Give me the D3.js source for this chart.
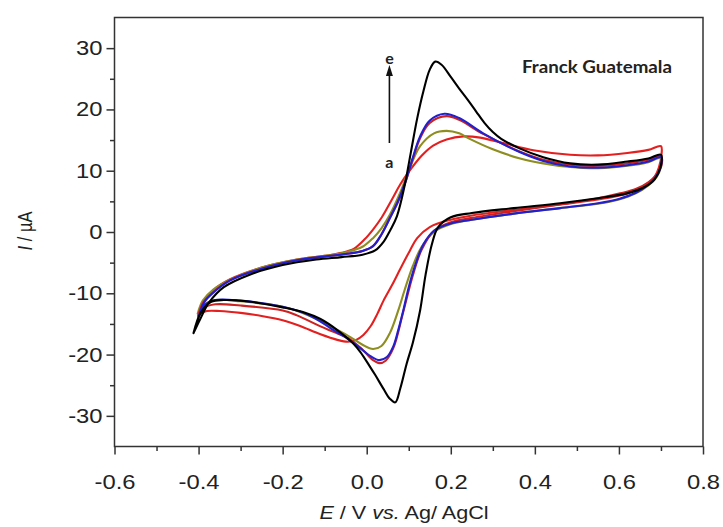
<!DOCTYPE html>
<html><head><meta charset="utf-8">
<script src="https://cdn.jsdelivr.net/npm/d3@7"></script>
<style>body{margin:0;background:#fff}svg{display:block}</style>
</head><body><svg id="c" width="723" height="527"></svg>
<script>
// ---------------- data ----------------
const xTicks = [-0.6,-0.4,-0.2,0.0,0.2,0.4,0.6,0.8];
const xTickLabels = ["-0.6","-0.4","-0.2","0.0","0.2","0.4","0.6","0.8"];
const xMinorTicks = [-0.5,-0.3,-0.1,0.1,0.3,0.5,0.7];
const yTicks = [-30,-20,-10,0,10,20,30];
const yTickLabels = ["-30","-20","-10","0","10","20","30"];
const yMinorTicks = [-25,-15,-5,5,15,25];
const seriesNames = ["a","b","c","d","e"];

// each series: closed CV loop [E (V), I (uA)], forward scan then reverse scan
const curveA = [[-0.400,-13.8],[-0.388,-11.6],[-0.365,-9.5],[-0.325,-7.7],[-0.25,-5.8],[-0.166,-4.5],[-0.10,-3.9],[-0.06,-3.4],[-0.03,-2.7],[-0.005,-1.2],[0.015,0.4],[0.036,2.4],[0.060,5.3],[0.080,7.8],[0.100,9.8],[0.130,12.4],[0.158,14.1],[0.190,15.1],[0.230,15.6],[0.270,15.4],[0.325,14.5],[0.400,13.3],[0.484,12.6],[0.550,12.5],[0.620,12.9],[0.670,13.4],[0.700,14.0],
  [0.701,12.5],[0.695,10.5],[0.685,9.0],[0.666,7.8],[0.620,6.3],[0.550,5.3],[0.460,4.5],[0.350,3.6],[0.250,2.7],[0.200,2.0],[0.150,0.8],[0.120,-1.0],[0.103,-3.0],[0.080,-6.0],[0.060,-8.7],[0.040,-11.2],[0.025,-13.4],[0.010,-15.3],[-0.008,-16.8],[-0.025,-17.6],[-0.045,-17.9],[-0.070,-17.6],[-0.110,-16.7],[-0.160,-15.3],[-0.200,-14.4],[-0.250,-13.7],[-0.300,-13.2],[-0.350,-12.9],[-0.380,-12.9],[-0.395,-13.3],[-0.400,-13.8]];
const curveB = [[-0.402,-13.3],[-0.390,-11.2],[-0.365,-9.4],[-0.325,-7.8],[-0.25,-5.8],[-0.166,-4.5],[-0.10,-3.9],[-0.05,-3.3],[-0.01,-2.4],[0.015,-1.0],[0.035,0.6],[0.055,2.8],[0.080,6.5],[0.100,10.0],[0.127,14.0],[0.160,16.1],[0.190,16.5],[0.220,16.1],[0.245,15.2],[0.300,13.5],[0.365,12.0],[0.420,11.2],[0.484,10.6],[0.550,10.4],[0.620,10.8],[0.670,11.4],[0.700,12.1],
  [0.700,10.6],[0.690,9.0],[0.670,7.6],[0.640,6.3],[0.600,5.3],[0.550,4.6],[0.460,3.9],[0.350,3.0],[0.250,2.0],[0.200,1.3],[0.160,0.0],[0.130,-2.5],[0.110,-5.5],[0.090,-9.5],[0.075,-12.8],[0.055,-16.5],[0.035,-18.6],[0.015,-19.1],[-0.010,-18.4],[-0.040,-17.1],[-0.080,-15.6],[-0.110,-14.5],[-0.160,-13.0],[-0.200,-12.2],[-0.300,-11.3],[-0.360,-11.1],[-0.388,-11.9],[-0.402,-13.3]];
const curveC = [[-0.401,-13.6],[-0.388,-11.4],[-0.365,-9.8],[-0.325,-7.9],[-0.246,-5.9],[-0.166,-4.6],[-0.10,-4.0],[-0.05,-3.6],[-0.01,-3.1],[0.015,-2.3],[0.035,-0.4],[0.056,2.4],[0.075,5.0],[0.094,8.5],[0.110,12.0],[0.127,15.3],[0.150,17.8],[0.190,18.9],[0.220,18.3],[0.277,16.0],[0.365,13.1],[0.420,11.8],[0.484,11.0],[0.550,10.8],[0.620,11.2],[0.670,11.8],[0.700,12.4],
  [0.701,10.8],[0.690,9.4],[0.670,8.1],[0.640,7.0],[0.603,6.3],[0.550,5.5],[0.460,4.5],[0.350,3.4],[0.250,2.3],[0.200,1.6],[0.160,0.2],[0.130,-3.0],[0.110,-7.0],[0.087,-13.0],[0.063,-19.0],[0.045,-21.0],[0.030,-21.4],[0.015,-20.9],[-0.010,-19.2],[-0.045,-17.3],[-0.079,-16.3],[-0.110,-15.4],[-0.166,-13.6],[-0.200,-12.8],[-0.300,-12.0],[-0.360,-11.8],[-0.388,-12.4],[-0.401,-13.6]];
const curveD = [[-0.400,-13.9],[-0.387,-11.5],[-0.365,-9.9],[-0.325,-7.9],[-0.246,-5.9],[-0.166,-4.6],[-0.10,-4.0],[-0.05,-3.6],[-0.01,-3.1],[0.015,-2.3],[0.035,-0.4],[0.056,2.4],[0.075,5.1],[0.094,8.6],[0.110,12.2],[0.127,15.6],[0.150,18.2],[0.185,19.3],[0.220,18.6],[0.277,16.1],[0.365,13.0],[0.420,11.6],[0.484,10.7],[0.550,10.5],[0.620,10.9],[0.670,11.5],[0.700,12.2],
  [0.700,10.8],[0.690,9.2],[0.670,7.7],[0.640,6.4],[0.600,5.4],[0.550,4.7],[0.460,3.9],[0.350,3.0],[0.250,2.0],[0.200,1.4],[0.160,0.2],[0.135,-2.0],[0.115,-5.5],[0.100,-9.0],[0.087,-12.8],[0.075,-16.0],[0.063,-18.7],[0.048,-20.4],[0.030,-20.9],[0.010,-20.3],[-0.020,-18.7],[-0.050,-17.2],[-0.079,-16.0],[-0.110,-14.6],[-0.150,-13.2],[-0.200,-12.2],[-0.300,-11.2],[-0.360,-11.1],[-0.388,-12.1],[-0.400,-13.9]];
const curveE = [[-0.412,-16.5],[-0.396,-14.2],[-0.375,-11.5],[-0.340,-9.0],[-0.280,-7.0],[-0.200,-5.4],[-0.120,-4.5],[-0.060,-4.1],[-0.010,-3.7],[0.020,-3.0],[0.040,-1.6],[0.056,0.3],[0.072,2.6],[0.090,7.5],[0.105,13.0],[0.120,18.5],[0.135,23.0],[0.150,26.5],[0.163,27.8],[0.178,27.3],[0.200,25.3],[0.220,23.4],[0.240,21.6],[0.260,19.7],[0.280,17.8],[0.300,16.3],[0.320,15.2],[0.365,13.6],[0.420,12.2],[0.484,11.2],[0.550,11.0],[0.620,11.5],[0.670,12.0],[0.700,12.6],
  [0.699,10.6],[0.685,8.6],[0.660,7.3],[0.619,6.3],[0.550,5.5],[0.460,4.7],[0.350,3.9],[0.250,3.1],[0.200,2.4],[0.170,0.8],[0.155,-2.0],[0.140,-7.0],[0.127,-12.8],[0.110,-18.0],[0.095,-21.5],[0.080,-25.5],[0.068,-27.8],[0.055,-27.2],[0.040,-25.6],[0.020,-23.3],[0.008,-22.0],[-0.015,-19.6],[-0.032,-18.2],[-0.070,-16.0],[-0.110,-14.2],[-0.150,-13.1],[-0.200,-12.3],[-0.285,-11.3],[-0.340,-11.1],[-0.370,-11.4],[-0.395,-13.2],[-0.412,-16.5]];
const seriesData = [curveA, curveB, curveC, curveD, curveE];

// ---------------- styles ----------------
const seriesColors = ["#e3201f","#8e8d1f","#cc2222","#2020d0","#000000"];
const axisColor = "#333";
const fontMain = "'Liberation Sans', Arial, sans-serif";
const sx = 1.16; // horizontal stretch of text in the reference

const svg = d3.select("#c");
const x = d3.scaleLinear().domain([-0.6, 0.8]).range([114.5, 703]);
const y = d3.scaleLinear().domain([-35, 35]).range([446.5, 17.5]);

// curves
const line = d3.line().x(d => x(d[0])).y(d => y(d[1])).curve(d3.curveCatmullRom.alpha(0.5));
svg.append("g").selectAll("path").data(seriesData).join("path")
  .attr("d", line).attr("fill", "none")
  .attr("stroke", (d, i) => seriesColors[i]).attr("stroke-width", 2.1)
  .attr("stroke-linejoin", "round").attr("stroke-linecap", "round");

// frame
svg.append("rect").attr("x", x(-0.6)).attr("y", y(35))
  .attr("width", x(0.8) - x(-0.6)).attr("height", y(-35) - y(35))
  .attr("fill", "none").attr("stroke", axisColor).attr("stroke-width", 1.5);

// axes
const gx = svg.append("g").attr("transform", `translate(0,${y(-35)})`)
  .call(d3.axisBottom(x).tickValues(xTicks).tickFormat((d, i) => xTickLabels[i]).tickSize(8).tickPadding(20));
const gxm = svg.append("g").attr("transform", `translate(0,${y(-35)})`)
  .call(d3.axisBottom(x).tickValues(xMinorTicks).tickFormat("").tickSize(4.5));
const gy = svg.append("g").attr("transform", `translate(${x(-0.6)},0)`)
  .call(d3.axisLeft(y).tickValues(yTicks).tickFormat((d, i) => yTickLabels[i]).tickSize(8).tickPadding(4));
const gym = svg.append("g").attr("transform", `translate(${x(-0.6)},0)`)
  .call(d3.axisLeft(y).tickValues(yMinorTicks).tickFormat("").tickSize(4.5));
[gx, gxm, gy, gym].forEach(g => {
  g.select(".domain").remove();
  g.selectAll("line").attr("stroke", axisColor).attr("stroke-width", 1.5);
  g.selectAll("text").attr("font-family", fontMain).attr("font-size", 20.5).attr("fill", "#222");
});
gx.selectAll("text").attr("transform", `scale(${sx},1)`);
gy.selectAll("text").each(function() {
  const t = d3.select(this);
  t.attr("x", +t.attr("x") / sx).attr("transform", `scale(${sx},1)`);
});

// axis titles
const xt = svg.append("text").attr("font-family", fontMain).attr("font-size", 18).attr("fill", "#222")
  .attr("text-anchor", "middle").attr("transform", `translate(404,519) scale(${sx + 0.04},1)`);
xt.append("tspan").attr("font-style", "italic").text("E");
xt.append("tspan").text(" / V ");
xt.append("tspan").attr("font-style", "italic").text("vs.");
xt.append("tspan").text(" Ag/ AgCl");

const yt = svg.append("text").attr("font-family", fontMain).attr("font-size", 16.5).attr("fill", "#222")
  .attr("text-anchor", "middle").attr("transform", `translate(32,231) scale(${sx + 0.06},1) rotate(-90)`);
yt.append("tspan").attr("font-style", "italic").text("I");
yt.append("tspan").text(" / \u00B5A");

// annotation
svg.append("text").attr("x", 522).attr("y", 73).attr("font-family", "Lato, 'Open Sans', sans-serif")
  .attr("font-weight", "bold").attr("font-size", 16.5).attr("fill", "#222")
  .attr("textLength", 150).attr("lengthAdjust", "spacingAndGlyphs").text("Franck Guatemala");

// arrow a -> e
const ax = x(0.054);
svg.append("line").attr("x1", ax).attr("x2", ax).attr("y1", 143).attr("y2", 74)
  .attr("stroke", "#111").attr("stroke-width", 1.6);
svg.append("path").attr("d", `M${ax},65 L${ax - 3.5},76 L${ax + 3.5},76 Z`).attr("fill", "#111");
svg.append("text").attr("x", ax).attr("y", 64).attr("text-anchor", "middle")
  .attr("font-family", "Lato, sans-serif").attr("font-weight", "bold").attr("font-size", 16).attr("fill", "#222")
  .text(seriesNames[4]);
svg.append("text").attr("x", ax).attr("y", 168).attr("text-anchor", "middle")
  .attr("font-family", "Lato, sans-serif").attr("font-weight", "bold").attr("font-size", 16).attr("fill", "#222")
  .text(seriesNames[0]);
</script></body></html>
